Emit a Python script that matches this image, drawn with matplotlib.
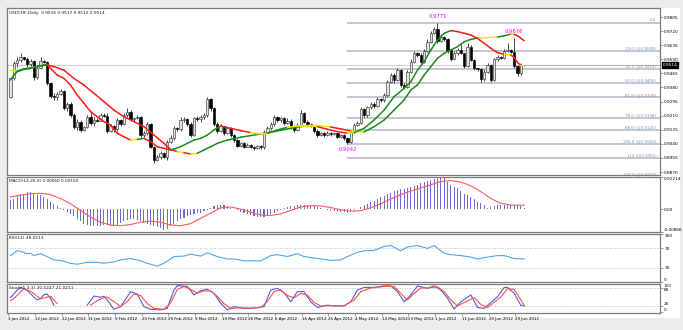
import numpy as np
import matplotlib.pyplot as plt
import matplotlib.transforms as mtrans
from matplotlib.collections import LineCollection
from matplotlib.patches import Rectangle

plt.rcParams['font.family'] = ['DejaVu Sans']

##########################################
### USDCHF daily, 3 Jan 2012 - 2 Jul 2012
##########################################
first_open = 0.9325
closes = [
    0.9435, 0.9526, 0.9546, 0.9562, 0.9554, 0.9522, 0.9540, 0.9441, 0.9495, 0.9542,
    0.9534, 0.9405, 0.9329, 0.9321, 0.9341, 0.9361, 0.9254, 0.9281, 0.9214, 0.9144,
    0.9174, 0.9124, 0.9144, 0.9204, 0.9168, 0.9184, 0.9180, 0.9214, 0.9208, 0.9120,
    0.9148, 0.9128, 0.9184, 0.9160, 0.9214, 0.9234, 0.9188, 0.9194, 0.9204, 0.9093,
    0.9104, 0.9160, 0.9023, 0.8943, 0.8959, 0.8983, 0.8963, 0.9053, 0.9073, 0.9134,
    0.9128, 0.9184, 0.9188, 0.9160, 0.9093, 0.9194, 0.9188, 0.9204, 0.9214, 0.9309,
    0.9254, 0.9160, 0.9120, 0.9148, 0.9108, 0.9134, 0.9093, 0.9063, 0.9027, 0.9043,
    0.9023, 0.9033, 0.9023, 0.9013, 0.9027, 0.9019, 0.9114, 0.9134, 0.9160, 0.9200,
    0.9184, 0.9194, 0.9164, 0.9180, 0.9144, 0.9124, 0.9154, 0.9228, 0.9174, 0.9160,
    0.9148, 0.9120, 0.9093, 0.9104, 0.9093, 0.9108, 0.9100, 0.9104, 0.9083, 0.9093,
    0.9073, 0.9053, 0.9114, 0.9154, 0.9168, 0.9248, 0.9214, 0.9260, 0.9281, 0.9268,
    0.9309, 0.9305, 0.9335, 0.9415, 0.9455, 0.9425, 0.9485, 0.9395, 0.9381, 0.9475,
    0.9536, 0.9586, 0.9576, 0.9536, 0.9602, 0.9656, 0.9707, 0.9731, 0.9662, 0.9682,
    0.9670, 0.9606, 0.9550, 0.9586, 0.9606, 0.9586, 0.9510, 0.9626, 0.9546, 0.9495,
    0.9489, 0.9430, 0.9475, 0.9516, 0.9425, 0.9550, 0.9566, 0.9556, 0.9602, 0.9606,
    0.9596, 0.9510, 0.9465, 0.9516, 0.9514]
highs = [
    0.9445, 0.9540, 0.9566, 0.9590, 0.9566, 0.9566, 0.9550, 0.9546, 0.9516, 0.9562,
    0.9546, 0.9540, 0.9415, 0.9345, 0.9355, 0.9370, 0.9365, 0.9295, 0.9290, 0.9224,
    0.9190, 0.9184, 0.9150, 0.9214, 0.9224, 0.9200, 0.9194, 0.9228, 0.9224, 0.9224,
    0.9160, 0.9154, 0.9194, 0.9190, 0.9224, 0.9254, 0.9244, 0.9204, 0.9214, 0.9210,
    0.9120, 0.9170, 0.9164, 0.9030, 0.8970, 0.8995, 0.8990, 0.9063, 0.9095, 0.9150,
    0.9140, 0.9200, 0.9200, 0.9194, 0.9170, 0.9204, 0.9210, 0.9214, 0.9228, 0.9325,
    0.9315, 0.9260, 0.9170, 0.9160, 0.9150, 0.9144, 0.9140, 0.9100, 0.9070, 0.9050,
    0.9050, 0.9043, 0.9040, 0.9030, 0.9035, 0.9033, 0.9124, 0.9150, 0.9174, 0.9214,
    0.9210, 0.9204, 0.9200, 0.9194, 0.9188, 0.9150, 0.9165, 0.9245, 0.9234, 0.9184,
    0.9168, 0.9154, 0.9128, 0.9114, 0.9110, 0.9118, 0.9112, 0.9110, 0.9108, 0.9100,
    0.9098, 0.9083, 0.9124, 0.9164, 0.9178, 0.9260, 0.9254, 0.9270, 0.9295, 0.9290,
    0.9320, 0.9315, 0.9345, 0.9425, 0.9470, 0.9465, 0.9495, 0.9490, 0.9405, 0.9485,
    0.9550, 0.9600, 0.9595, 0.9585, 0.9615, 0.9670, 0.9720, 0.9745, 0.9771, 0.9700,
    0.9690, 0.9680, 0.9610, 0.9600, 0.9616, 0.9640, 0.9590, 0.9650, 0.9635, 0.9550,
    0.9500, 0.9495, 0.9490, 0.9525, 0.9520, 0.9560, 0.9576, 0.9570, 0.9612, 0.9646,
    0.9612, 0.9676, 0.9515, 0.9525, 0.9517]
lows = [
    0.9315, 0.9425, 0.9506, 0.9536, 0.9546, 0.9506, 0.9510, 0.9425, 0.9430, 0.9490,
    0.9526, 0.9395, 0.9315, 0.9305, 0.9305, 0.9335, 0.9244, 0.9240, 0.9200, 0.9130,
    0.9124, 0.9110, 0.9120, 0.9134, 0.9155, 0.9150, 0.9170, 0.9175, 0.9200, 0.9108,
    0.9114, 0.9110, 0.9118, 0.9150, 0.9154, 0.9200, 0.9180, 0.9180, 0.9190, 0.9080,
    0.9083, 0.9095, 0.9013, 0.8927, 0.8935, 0.8950, 0.8955, 0.8945, 0.9045, 0.9063,
    0.9118, 0.9120, 0.9170, 0.9150, 0.9083, 0.9090, 0.9178, 0.9170, 0.9190, 0.9205,
    0.9240, 0.9150, 0.9104, 0.9114, 0.9095, 0.9100, 0.9083, 0.9053, 0.9020, 0.9020,
    0.9013, 0.9020, 0.9013, 0.9003, 0.9010, 0.9008, 0.9010, 0.9104, 0.9124, 0.9150,
    0.9170, 0.9174, 0.9154, 0.9160, 0.9130, 0.9110, 0.9120, 0.9140, 0.9165, 0.9150,
    0.9140, 0.9108, 0.9083, 0.9088, 0.9083, 0.9090, 0.9090, 0.9093, 0.9075, 0.9075,
    0.9063, 0.9042, 0.9048, 0.9108, 0.9148, 0.9160, 0.9200, 0.9205, 0.9250, 0.9255,
    0.9260, 0.9295, 0.9295, 0.9325, 0.9405, 0.9410, 0.9420, 0.9385, 0.9370, 0.9375,
    0.9470, 0.9530, 0.9565, 0.9525, 0.9530, 0.9595, 0.9650, 0.9700, 0.9650, 0.9655,
    0.9660, 0.9590, 0.9540, 0.9545, 0.9575, 0.9580, 0.9500, 0.9505, 0.9540, 0.9485,
    0.9480, 0.9415, 0.9420, 0.9465, 0.9415, 0.9420, 0.9540, 0.9550, 0.9550, 0.9595,
    0.9586, 0.9500, 0.9450, 0.9455, 0.9512]

# two colour-changing moving averages (fast / slow)
fast_ma_x = [0, 1, 2, 4, 6, 8, 10, 11, 12, 14, 16, 18, 20, 22, 24, 26, 28, 30, 32, 34,
             36, 38, 40, 42, 44, 46, 48, 49, 51, 53, 55, 57, 59, 61, 63, 66, 69, 72, 75, 77,
             80, 83, 86, 89, 92, 95, 98, 101, 103, 106, 109, 112, 115, 118, 120, 122, 124, 126, 128, 130,
             132, 134, 136, 138, 140, 142, 144, 146, 148, 150, 151, 152, 153, 154]
fast_ma = [0.9425, 0.9455, 0.9475, 0.9489, 0.9495, 0.9506, 0.9516, 0.9520, 0.9495, 0.9455,
           0.9435, 0.9395, 0.9335, 0.9285, 0.9234, 0.9204, 0.9174, 0.9154, 0.9104, 0.9083,
           0.9063, 0.9067, 0.9073, 0.9053, 0.9023, 0.9013, 0.9003, 0.9009, 0.9023, 0.9043,
           0.9063, 0.9073, 0.9093, 0.9124, 0.9148, 0.9134, 0.9120, 0.9108, 0.9100, 0.9104,
           0.9124, 0.9140, 0.9148, 0.9150, 0.9144, 0.9128, 0.9114, 0.9104, 0.9108, 0.9134,
           0.9184, 0.9244, 0.9325, 0.9375, 0.9415, 0.9485, 0.9536, 0.9606, 0.9666, 0.9707,
           0.9723, 0.9717, 0.9707, 0.9696, 0.9676, 0.9646, 0.9616, 0.9590, 0.9580, 0.9576,
           0.9560, 0.9530, 0.9514, 0.9512]
slow_ma_x = [0, 2, 4, 8, 11, 13, 16, 19, 22, 25, 28, 31, 34, 37, 40, 43, 46, 48, 50, 52,
             54, 56, 58, 60, 62, 65, 69, 72, 75, 78, 81, 84, 87, 90, 93, 96, 99, 102, 106, 109,
             112, 115, 118, 120, 122, 124, 126, 128, 130, 132, 134, 136, 138, 140, 142, 144, 146, 148, 150, 151,
             152, 154]
slow_ma = [0.9482, 0.9480, 0.9492, 0.9506, 0.9516, 0.9506, 0.9485, 0.9435, 0.9395, 0.9345,
           0.9295, 0.9244, 0.9204, 0.9174, 0.9144, 0.9093, 0.9043, 0.9007, 0.8993, 0.8987,
           0.8979, 0.8983, 0.9003, 0.9023, 0.9043, 0.9063, 0.9080, 0.9090, 0.9100, 0.9110,
           0.9122, 0.9134, 0.9144, 0.9152, 0.9150, 0.9142, 0.9130, 0.9118, 0.9112, 0.9144,
           0.9184, 0.9244, 0.9305, 0.9365, 0.9395, 0.9455, 0.9506, 0.9556, 0.9586, 0.9606,
           0.9626, 0.9656, 0.9670, 0.9678, 0.9680, 0.9681, 0.9684, 0.9692, 0.9702, 0.9700,
           0.9692, 0.9662]

# fibonacci retracement (0.9042 low -> 0.9771 high)
fib_start_bar = 101
fib_names = ['0.0', '23.6 (@0.9599)', '38.2 (@0.9493)', '50.0 (@0.9406)', '61.8 (@0.9320)',
             '78.6 (@0.9198)', '88.6 (@0.9125)', '100.0 (@0.9042)', '112 (@0.8955)', '127.2 (@0.8844)']
fib_prices = [0.9771, 0.9599, 0.9493, 0.9406, 0.9320, 0.9198, 0.9125, 0.9042, 0.8955, 0.8844]

# MACD(12,26,9): main as histogram, signal line
macd_hist = [
    0.0033, 0.0039, 0.0052, 0.0059, 0.0059, 0.0063, 0.0063, 0.0059, 0.0055, 0.0052,
    0.0046, 0.0039, 0.0026, 0.0020, 0.0010, 0.0003, -0.0003, -0.0010, -0.0020, -0.0026,
    -0.0037, -0.0046, -0.0055, -0.0059, -0.0063, -0.0063, -0.0063, -0.0063, -0.0059, -0.0059,
    -0.0063, -0.0063, -0.0059, -0.0052, -0.0046, -0.0042, -0.0039, -0.0039, -0.0042, -0.0046,
    -0.0052, -0.0055, -0.0059, -0.0065, -0.0068, -0.0072, -0.0080, -0.0074, -0.0065, -0.0055,
    -0.0046, -0.0039, -0.0033, -0.0026, -0.0024, -0.0020, -0.0016, -0.0013, -0.0008, -0.0002,
    0.0005, 0.0012, 0.0015, 0.0016, 0.0014, 0.0010, 0.0005, 0.0000, -0.0005, -0.0010,
    -0.0014, -0.0018, -0.0022, -0.0025, -0.0028, -0.0030, -0.0029, -0.0025, -0.0020, -0.0014,
    -0.0008, -0.0002, 0.0004, 0.0008, 0.0011, 0.0013, 0.0014, 0.0015, 0.0016, 0.0015,
    0.0013, 0.0010, 0.0007, 0.0004, 0.0001, -0.0002, -0.0005, -0.0007, -0.0008, -0.0010,
    -0.0012, -0.0013, -0.0010, -0.0005, 0.0002, 0.0008, 0.0014, 0.0020, 0.0026, 0.0032,
    0.0038, 0.0044, 0.0050, 0.0056, 0.0062, 0.0067, 0.0072, 0.0075, 0.0077, 0.0080,
    0.0084, 0.0088, 0.0092, 0.0098, 0.0102, 0.0106, 0.0110, 0.0114, 0.0118, 0.0121,
    0.0116, 0.0104, 0.0093, 0.0085, 0.0080, 0.0070, 0.0058, 0.0052, 0.0046, 0.0038,
    0.0028, 0.0022, 0.0015, 0.0006, 0.0008, 0.0010, 0.0015, 0.0016, 0.0017, 0.0017,
    0.0016, 0.0016, 0.0013, 0.0010, 0.0006]
macd_sig_x = [0, 3, 6, 9, 12, 15, 18, 21, 24, 27, 30, 33, 36, 39, 42, 45, 48, 51, 54, 57,
              60, 63, 66, 69, 72, 75, 78, 81, 84, 87, 90, 93, 96, 99, 102, 105, 108, 111, 114, 117,
              120, 123, 126, 129, 132, 135, 138, 141, 144, 147, 150, 154]
macd_sig = [0.0046, 0.0053, 0.0058, 0.0060, 0.0055, 0.0040, 0.0020, -0.0005, -0.0030, -0.0050,
            -0.0060, -0.0063, -0.0058, -0.0050, -0.0045, -0.0050, -0.0060, -0.0063, -0.0055, -0.0035,
            -0.0015, 0.0005, 0.0008, 0.0000, -0.0012, -0.0022, -0.0024, -0.0018, -0.0005, 0.0008,
            0.0013, 0.0012, 0.0006, -0.0003, -0.0008, -0.0006, 0.0005, 0.0020, 0.0038, 0.0055,
            0.0068, 0.0080, 0.0092, 0.0104, 0.0108, 0.0102, 0.0088, 0.0066, 0.0040, 0.0022,
            0.0015, 0.0015]

# RSI(14)
rsi_x = [0, 2, 3, 5, 6, 7, 9, 10, 13, 15, 18, 20, 23, 26, 28, 31, 33, 36, 39, 41,
         44, 46, 49, 52, 54, 57, 59, 62, 65, 67, 70, 72, 75, 78, 80, 83, 86, 88, 91, 93,
         96, 99, 101, 104, 106, 109, 112, 114, 117, 119, 122, 125, 127, 130, 132, 135, 138, 140, 143, 146,
         148, 151, 154]
rsi = [55, 65, 64, 59, 60, 55, 59, 56, 46, 45, 39, 37, 41, 41, 39, 42, 46, 49, 44, 39,
       33, 39, 53, 54, 58, 54, 61, 53, 48, 48, 44, 44, 44, 55, 57, 53, 59, 53, 50, 48,
       45, 46, 53, 62, 65, 66, 74, 76, 65, 73, 76, 70, 76, 60, 57, 55, 52, 48, 52, 55,
       55, 49, 48]

# Stochastic(5,3,3): %K (blue) and %D (red); the indicator is blank for a stretch in January
nan = float('nan')
stoch_k_x = [0, 2, 3, 5, 7, 8, 9, 10, 11, 12, 13, 18, 23, 25, 27, 28, 29, 31, 33, 35,
             36, 38, 40, 42, 45, 47, 49, 50, 53, 55, 57, 59, 61, 63, 65, 67, 70, 72, 76, 78,
             80, 82, 84, 86, 88, 90, 92, 95, 97, 100, 102, 104, 106, 109, 112, 114, 116, 118, 120, 122,
             123, 125, 127, 129, 131, 133, 135, 138, 140, 142, 146, 148, 149, 151, 153, 154]
stoch_k = [48, 73, 82, 72, 50, 40, 45, 58, 60, 45, 22, nan, 23, 53, 49, 53, 40, 9, 18, 51,
           68, 60, 18, 9, 7, 12, 73, 88, 85, 57, 71, 76, 62, 29, 7, 18, 12, 12, 18, 73,
           79, 64, 34, 68, 68, 34, 15, 23, 20, 20, 34, 73, 82, 82, 87, 87, 68, 34, 57, 87,
           84, 79, 87, 73, 46, 10, 34, 57, 15, 12, 51, 82, 82, 62, 22, 20.5]
stoch_d_x = [0, 1, 3, 4, 6, 8, 9, 11, 12, 14, 18, 24, 26, 28, 29, 31, 33, 35, 37, 39,
             41, 43, 46, 48, 50, 52, 54, 56, 58, 60, 62, 64, 66, 69, 72, 75, 77, 79, 81, 83,
             85, 87, 89, 91, 93, 96, 100, 103, 105, 108, 112, 115, 117, 119, 121, 123, 125, 128, 130, 132,
             134, 136, 139, 141, 143, 147, 149, 151, 153, 154]
stoch_d = [38, 45, 66, 77, 70, 52, 44, 50, 52, 28, nan, 23, 38, 48, 50, 35, 18, 35, 60, 55,
           28, 12, 9, 30, 75, 85, 75, 63, 70, 70, 52, 28, 12, 14, 13, 15, 35, 68, 74, 55,
           47, 62, 56, 32, 20, 21, 21, 40, 68, 80, 85, 85, 62, 40, 62, 80, 80, 84, 68, 40,
           20, 32, 48, 25, 15, 50, 78, 75, 40, 21]

date_labels = ['3 Jan 2012', '12 Jan 2012', '22 Jan 2012', '31 Jan 2012', '9 Feb 2012',
               '20 Feb 2012', '29 Feb 2012', '9 Mar 2012', '19 Mar 2012', '28 Mar 2012',
               '6 Apr 2012', '16 Apr 2012', '25 Apr 2012', '4 May 2012', '14 May 2012',
               '23 May 2012', '1 Jun 2012', '11 Jun 2012', '20 Jun 2012', '29 Jun 2012']
date_label_bars = list(range(0, 160, 8))

price_ticks = [0.9805, 0.9720, 0.9635, 0.9550, 0.9465, 0.9380, 0.9295, 0.9210,
               0.9125, 0.9040, 0.8955, 0.8870]

##########################
###### PLOTTING ONLY #####
##########################
W, H = 683, 330
small = 3.1
TXT = '#1a1a1a'

fig = plt.figure(figsize=(W / 100, H / 100), dpi=100)
fig.patch.set_facecolor('#ececec')
# white chart area behind all panels
fig.patches.append(Rectangle((7 / W, 12 / H), 673 / W, 310 / H, transform=fig.transFigure,
                             facecolor='white', edgecolor='none', zorder=-10))


def px_axes(x0, y0, x1, y1):
    # axes placed in screenshot pixel coordinates (origin top-left)
    a = fig.add_axes([x0 / W, 1 - y1 / H, (x1 - x0) / W, (y1 - y0) / H])
    a.set_facecolor('white')
    for s in a.spines.values():
        s.set_color('#7a7a7a')
        s.set_linewidth(0.9)
    a.tick_params(axis='x', bottom=False, labelbottom=False)
    a.yaxis.tick_right()
    a.tick_params(axis='y', length=2, width=0.5, color='#7a7a7a', pad=1, labelsize=small)
    a.set_xlim(-1.05, 194.7)
    return a


ax_p = px_axes(7, 8, 660, 175)
ax_m = px_axes(7, 177, 660, 232)
ax_r = px_axes(7, 234, 660, 282)
ax_s = px_axes(7, 284, 660, 313)

#### main price window ####
ax_p.set_ylim(0.88523, 0.98593)
ax_p.set_yticks(price_ticks)
ax_p.set_yticklabels(['%.4f' % v for v in price_ticks])

# fibonacci levels
ax_p.hlines(fib_prices, fib_start_bar, 194.7, color='#bcc4cc', lw=1.3, zorder=1)
for name, lvl in zip(fib_names, fib_prices):
    ax_p.text(193.6, lvl + 0.0002, name, fontsize=2.9, color='#8090a0', ha='right', va='bottom', zorder=2)

# bid line
ax_p.axhline(0.9514, color='#c8c8c8', lw=0.6, zorder=1)
ax_p.plot([154.5, 194.7], [0.9514, 0.9514], color='#f0a0a0', lw=0.6, zorder=1)

# candles
c = np.array(closes)
o = np.array([first_open] + closes[:-1])
hi = np.array(highs)
lo = np.array(lows)
idx = np.arange(len(c))
up = c >= o
ax_p.vlines(idx, lo, hi, color='#262626', lw=0.6, zorder=3)
ax_p.bar(idx[up], (c - o)[up] + 0.00005, bottom=o[up], width=0.7, color='#e4e4e4',
         edgecolor='#3a3a3a', linewidth=0.45, zorder=4)
ax_p.bar(idx[~up], (o - c)[~up] + 0.00005, bottom=c[~up], width=0.7, color='black',
         edgecolor='black', linewidth=0.45, zorder=4)


def colour_ma(ax, xs, ys):
    # red when falling, green when rising, yellow when flat
    xs = np.asarray(xs, float)
    ys = np.asarray(ys, float)
    pts = np.column_stack([xs, ys])
    segs = np.stack([pts[:-1], pts[1:]], axis=1)
    slope = np.diff(ys) / np.diff(xs)
    cols = ['#f2e600' if abs(s) < 0.0003 else ('#ff1a1a' if s < 0 else '#1d8a1d') for s in slope]
    ax.add_collection(LineCollection(segs, colors=cols, linewidths=1.1, zorder=5,
                                     capstyle='round', joinstyle='round'))


colour_ma(ax_p, slow_ma_x, slow_ma)
colour_ma(ax_p, fast_ma_x, fast_ma)

ax_p.text(128, 0.9811, '0.9771', color='#ff00ff', fontsize=3.8, ha='center', va='center', zorder=6)
ax_p.text(101, 0.9009, '0.9042', color='#ff00ff', fontsize=3.8, ha='center', va='center', zorder=6)
ax_p.text(151, 0.9715, '0.9676', color='#ff00ff', fontsize=3.8, ha='center', va='center', zorder=6)

ax_p.text(0.003, 0.985, 'USDCHF,Daily  0.9516 0.9517 0.9512 0.9514', transform=ax_p.transAxes,
          fontsize=small, color=TXT, ha='left', va='top')

bt = mtrans.blended_transform_factory(ax_p.transAxes, ax_p.transData)
ax_p.text(1.004, 0.9514, '0.9514', transform=bt, fontsize=small, color='white', ha='left',
          va='center', clip_on=False, zorder=7,
          bbox=dict(boxstyle='square,pad=0.2', fc='black', ec='black'))

#### MACD window ####
ax_m.set_ylim(-0.00866, 0.01214)
ax_m.bar(idx, macd_hist, width=0.32, color='#6c6cd2', zorder=2)
ax_m.plot(macd_sig_x, macd_sig, color='#ff5a5a', lw=0.8, zorder=3)
ax_m.set_yticks([0.01214, 0.0, -0.00866])
ax_m.set_yticklabels(['0.01214', '0.00', '-0.00866'])
lbl = ax_m.get_yticklabels()
lbl[0].set_va('top')
lbl[2].set_va('bottom')
ax_m.text(0.003, 0.96, 'MACD(12,26,9) 0.00060 0.00150', transform=ax_m.transAxes,
          fontsize=small, color=TXT, ha='left', va='top')

#### RSI window ####
ax_r.set_ylim(0, 100)
for lvl in (70, 30):
    ax_r.axhline(lvl, color='#a8a8a8', lw=0.6, ls=(0, (1, 2)), zorder=1)
ax_r.plot(rsi_x, rsi, color='#4aa8f0', lw=0.8, zorder=3)
ax_r.set_yticks([100, 70, 30, 0])
ax_r.set_yticklabels(['100', '70', '30', '0'])
lbl = ax_r.get_yticklabels()
lbl[0].set_va('top')
lbl[3].set_va('bottom')
ax_r.text(0.003, 0.95, 'RSI(14) 48.0213', transform=ax_r.transAxes,
          fontsize=small, color=TXT, ha='left', va='top')

#### Stochastic window ####
ax_s.set_ylim(-3.3, 93.3)
for lvl in (80, 20):
    ax_s.axhline(lvl, color='#a8a8a8', lw=0.6, ls=(0, (1, 2)), zorder=1)
ax_s.plot(stoch_k_x, stoch_k, color='#5a5ad8', lw=0.8, zorder=3)
ax_s.plot(stoch_d_x, stoch_d, color='#ff5050', lw=0.8, zorder=3)
ax_s.set_yticks([80, 20, 0])
ax_s.set_yticklabels(['80', '20', '0'])
lbl = ax_s.get_yticklabels()
lbl[0].set_va('top')
lbl[1].set_va('bottom')
lbl[2].set_va('bottom')
st = mtrans.blended_transform_factory(ax_s.transAxes, ax_s.transAxes)
ax_s.text(1.0 + 4 / 653, 1.0, '100', transform=st, fontsize=small, color=TXT, ha='left',
          va='top', clip_on=False)
ax_s.text(0.003, 0.93, 'Stoch(5,3,3) 20.5247 21.0211', transform=ax_s.transAxes,
          fontsize=small, color=TXT, ha='left', va='top')

# date axis
ax_s.tick_params(axis='x', bottom=True, labelbottom=True, length=2, width=0.5,
                 color='#7a7a7a', pad=1, labelsize=2.9)
ax_s.set_xticks([b - 0.7 for b in date_label_bars])
ax_s.set_xticklabels(date_labels, ha='left')

fig.savefig('out.png', dpi=100, facecolor=fig.get_facecolor())
